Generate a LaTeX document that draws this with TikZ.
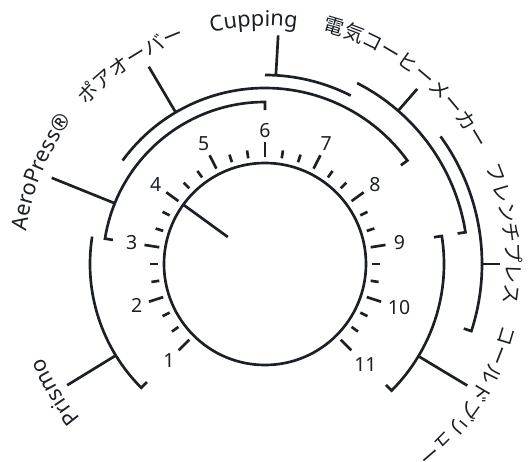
\documentclass[tikz,border=0pt]{standalone}
\usepackage{fontspec}
\setmainfont{Noto Sans}
\newfontfamily\jpfont{Noto Sans CJK JP}
\usetikzlibrary{decorations.text}
\definecolor{ink}{RGB}{27,31,38}
\newcommand\lblfont{\fontsize{16.3}{16.3}\selectfont}
\newcommand\jplblfont{\fontsize{15}{15}\selectfont\jpfont}

\tikzset{
  dialline/.style={draw=ink,line width=2pt},
  digit/.style={font=\fontsize{14.6}{15}\selectfont,text=ink,inner sep=0pt},
  arclabel/.style={decorate,decoration={text along path,text align=center,text color=ink,text={#1}}}
}

\begin{document}
\begin{tikzpicture}[x=0.75pt,y=0.75pt]
    \useasboundingbox (-265,-197) rectangle (263,264);

    % Dial
    \draw[dialline] (0,0) circle[radius=101];
    \draw[dialline] (144:46) -- (144:101);

    % Ticks: 1 at 225 deg, 27 deg per step
    \foreach \n in {1,...,11}
      \draw[dialline] ({252-27*\n}:107) -- ({252-27*\n}:122);
    \foreach \k in {0,...,9}
      \foreach \m in {1,2}
        \draw[dialline] ({225-27*\k-9*\m}:107) -- ({225-27*\k-9*\m}:115);
    \foreach \n/\r in {1/136,2/135,3/135,4/135,5/135,6/133,7/135,8/136,9/136,10/141,11/142}
      \node[digit] (num\n) at ({252-27*\n}:\r) {\n};

    % Ranges
    % Prismo 1-3
    \draw[dialline] (225:167) -- (225:175) arc[start angle=225,end angle=171,radius=175];
    % AeroPress 3-6
    \draw[dialline] (171:154) -- (171:162) arc[start angle=171,end angle=90,radius=162] -- (90:154);
    % pour over 4-8
    \draw[dialline] (144:176) arc[start angle=144,end angle=36,radius=176] -- (36:168);
    % cupping 6-7
    \draw[dialline] (90:189) arc[start angle=90,end angle=63,radius=189];
    % coffee maker 7-9
    \draw[dialline] (63:203) arc[start angle=63,end angle=9,radius=203] -- (9:195);
    % french press 8-10
    \draw[dialline] (36:217) arc[start angle=36,end angle=-18,radius=217] -- (-18:209);
    % cold brew 9-11
    \draw[dialline] (9:171) -- (9:179) arc[start angle=9,end angle=-45,radius=179] -- (-45:171);

    % Leaders
    \draw[dialline] (211.5:175) -- (211.5:232);
    \draw[dialline] (158:162) -- (158:230);
    \draw[dialline] (120.5:176) -- (120.5:229);
    \draw[dialline] (86.7:189) -- (86.7:229);
    \draw[dialline] (49:203) -- (49:232);
    \draw[dialline] (0:217) -- (0:235);
    \draw[dialline] (-31:179) -- (-31:236);

    % Labels along the rim
    \path[arclabel={|\lblfont|Prismo}] (251.4:241) arc[start angle=251.4,end angle=171.4,radius=241];
    \path[arclabel={|\lblfont|AeroPress®}] (197.8:241) arc[start angle=197.8,end angle=117.8,radius=241];
    \path[arclabel={|\jplblfont|ポアオーバー}] (164:238) arc[start angle=164,end angle=84,radius=238];
    \path[arclabel={|\lblfont|Cupping}] (132.7:238) arc[start angle=132.7,end angle=52.7,radius=238];
    \path[arclabel={|\jplblfont|電気コーヒーメーカー}] (102.2:240) arc[start angle=102.2,end angle=2.2,radius=240];
    \path[arclabel={|\jplblfont|フレンチプレス}] (47.2:241) arc[start angle=47.2,end angle=-32.8,radius=241];
    \path[arclabel={|\jplblfont|コールドブリュー}] (7:245) arc[start angle=7,end angle=-73,radius=245];
\end{tikzpicture}
\end{document}
